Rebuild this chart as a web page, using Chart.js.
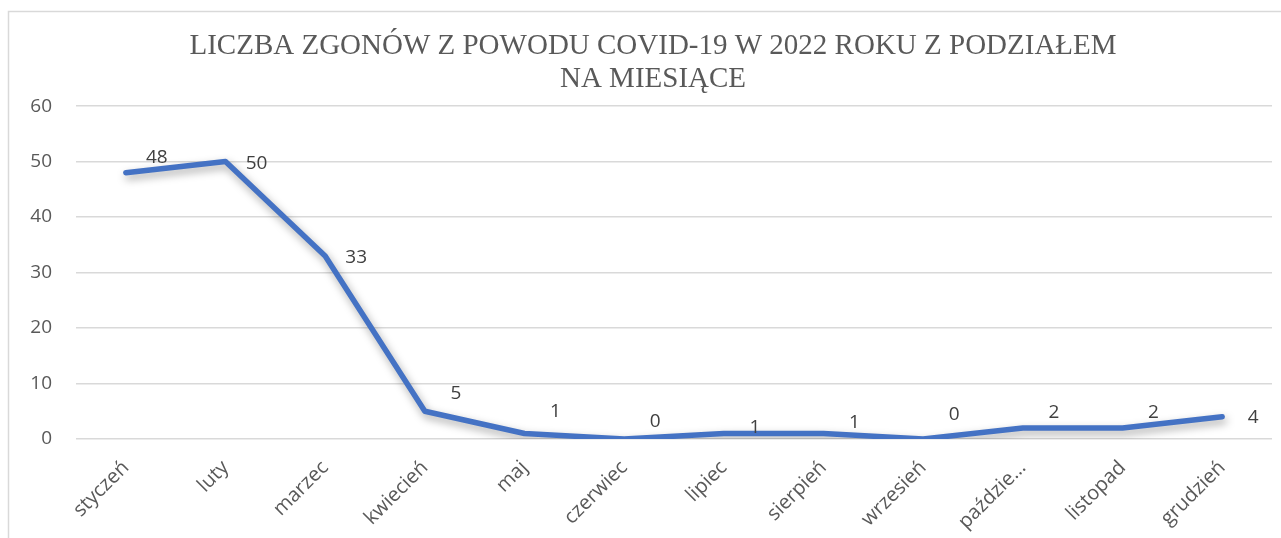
<!DOCTYPE html>
<html lang="pl">
<head>
<meta charset="utf-8">
<title>Zgony COVID-19 2022</title>
<script src="https://cdn.jsdelivr.net/npm/chart.js@4.4.1/dist/chart.umd.min.js"></script>
<style>
    body { margin: 0; background: #ffffff; }
    #wrap { width: 1281px; height: 538px; position: relative; }
</style>
</head>
<body>
<div id="wrap"><canvas id="zgony" width="1281" height="538"></canvas></div>
<script>
    // Dane
    var miesiace = ["styczeń", "luty", "marzec", "kwiecień", "maj", "czerwiec", "lipiec",
        "sierpień", "wrzesień", "październik", "listopad", "grudzień"];
    var zgony = [48, 50, 33, 5, 1, 0, 1, 1, 0, 2, 2, 4];
    var osY = [0, 10, 20, 30, 40, 50, 60];
    var tytul = ["LICZBA ZGONÓW Z POWODU COVID-19 W 2022 ROKU Z PODZIAŁEM", "NA MIESIĄCE"];

    // przesuniecie etykiet w pionie (px), zeby nie nachodzily na linie
    var podniesienie = [15, -2, -2, 18, 22, 17, 6, 11, 24, 15, 15, -1];

    var szary = "#595959";
    var fontEtykiet = "'Open Sans', 'Noto Sans', sans-serif";

    // ramka wykresu
    var ramka = {
        id: 'ramka',
        beforeDraw: function (chart) {
            var c = chart.ctx;
            c.save();
            c.fillStyle = '#ffffff';
            c.fillRect(0, 0, chart.width, chart.height);
            c.strokeStyle = '#d9d9d9';
            c.lineWidth = 1.5;
            c.strokeRect(8.5, 11.5, chart.width + 20, chart.height + 20);
            c.restore();
        },
        // tytul troche w prawo, nad srodkiem obszaru
        afterLayout: function (chart) {
            if (chart.titleBlock) {
                chart.titleBlock.left += 7;
                chart.titleBlock.right += 7;
            }
        }
    };

    // cien pod linia
    var cien = {
        id: 'cien',
        beforeDatasetDraw: function (chart) {
            var c = chart.ctx;
            c.save();
            c.shadowColor = 'rgba(0, 0, 0, 0.35)';
            c.shadowBlur = 8;
            c.shadowOffsetX = 2;
            c.shadowOffsetY = 4;
        },
        afterDatasetDraw: function (chart) {
            chart.ctx.restore();
        }
    };

    // etykiety wartosci z prawej strony punktow
    var etykiety = {
        id: 'etykiety',
        afterDatasetsDraw: function (chart) {
            var c = chart.ctx;
            var meta = chart.getDatasetMeta(0);
            c.save();
            c.font = "19px " + fontEtykiet;
            c.fillStyle = "#404040";
            c.textAlign = 'center';
            c.textBaseline = 'middle';
            meta.data.forEach(function (pt, i) {
                c.fillText(String(zgony[i]), pt.x + 31, pt.y - podniesienie[i]);
            });
            c.restore();
        }
    };

    var ctx = document.getElementById('zgony').getContext('2d');
    var wykres = new Chart(ctx, {
        type: 'line',
        data: {
            labels: miesiace,
            datasets: [{
                label: 'Liczba zgonów',
                data: zgony,
                borderColor: '#4472C4',
                borderWidth: 5.5,
                borderCapStyle: 'round',
                borderJoinStyle: 'round',
                tension: 0,
                pointRadius: 0,
                fill: false
            }]
        },
        options: {
            responsive: false,
            animation: false,
            layout: {
                padding: { left: 20, right: 9, top: 18, bottom: 0 }
            },
            plugins: {
                legend: { display: false },
                tooltip: { enabled: false },
                title: {
                    display: true,
                    text: tytul,
                    color: szary,
                    font: { family: "'Liberation Serif', 'DejaVu Serif', serif", size: 29, weight: 'normal', lineHeight: 1.14 },
                    padding: { top: 12, bottom: 10 }
                }
            },
            scales: {
                x: {
                    offset: true,
                    grid: { display: false, drawTicks: false },
                    border: { display: false },
                    afterFit: function (scale) { scale.height = 99; },
                    ticks: {
                        color: szary,
                        font: { family: fontEtykiet, size: 20 },
                        minRotation: 45,
                        maxRotation: 45,
                        padding: 17,
                        callback: function (v, i) {
                            var t = miesiace[i];
                            return t.length > 9 ? t.slice(0, 7) + '…' : t;
                        }
                    }
                },
                y: {
                    min: osY[0],
                    max: osY[osY.length - 1],
                    afterFit: function (scale) { scale.width = 56; },
                    afterBuildTicks: function (scale) {
                        scale.ticks = osY.map(function (v) { return { value: v }; });
                    },
                    grid: { color: '#d9d9d9', lineWidth: 1.5, drawTicks: false },
                    border: { display: false },
                    ticks: {
                        color: szary,
                        font: { family: fontEtykiet, size: 19 },
                        padding: 24
                    }
                }
            }
        },
        plugins: [ramka, cien, etykiety]
    });
</script>
</body>
</html>
